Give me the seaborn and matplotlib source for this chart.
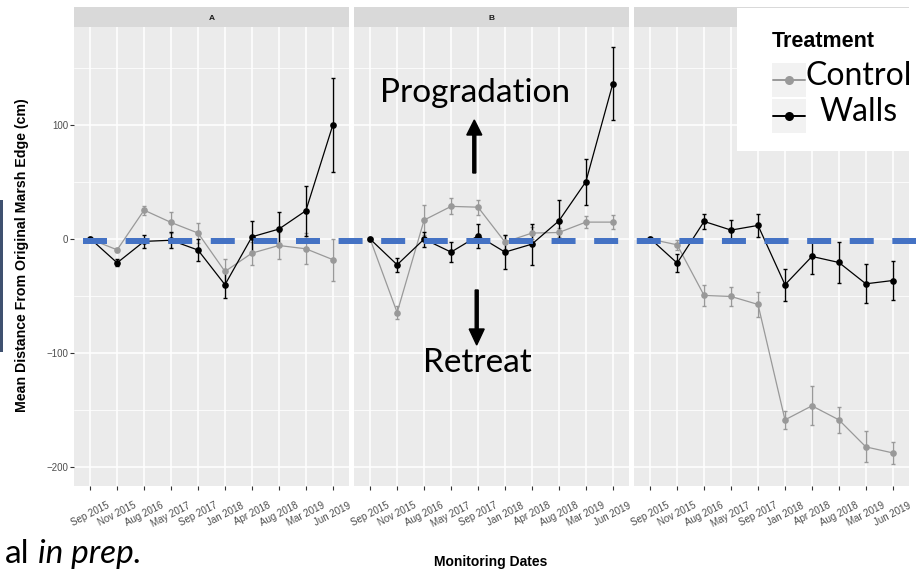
import matplotlib
matplotlib.use("Agg")
import numpy as np
import pandas as pd
import seaborn as sns
import matplotlib.pyplot as plt
from matplotlib.patches import Rectangle, FancyArrow
from matplotlib.lines import Line2D
from matplotlib.ticker import MultipleLocator
from matplotlib.transforms import Affine2D

# ---- data -------------------------------------------------------------
dates = ["Sep 2015", "Nov 2015", "Aug 2016", "May 2017", "Sep 2017",
         "Jan 2018", "Apr 2018", "Aug 2018", "Mar 2019", "Jun 2019"]
sites = ["A", "B", "C"]
treatments = ["Control", "Walls"]

a_control = [0, -9.4, 25.4, 14.6, 5.3, -28.4, -12.3, -5.6, -8.5, -18.0]
a_control_se = [0, 2, 4, 9, 9, 11, 10, 11.5, 13.5, 18.5]
a_walls = [0.5, -20.8, -2, -1, -9.6, -40, 2, 8.8, 24.9, 100]
a_walls_se = [0, 3, 5.5, 7, 9.5, 12, 13.5, 15, 22, 41]

b_control = [0, -64.4, 16.7, 28.7, 28, -2.6, 5.3, 5.8, 14.9, 14.9]
b_control_se = [0, 5.5, 13, 7, 6.7, 6.5, 5, 4, 5, 6]
b_walls = [0, -22.5, 0, -11.4, 2.9, -11.4, -4.4, 16, 50.3, 136.3]
b_walls_se = [0, 6, 6.5, 8.6, 10.5, 15, 18, 18.5, 20, 32]

c_control = [0, -5, -49.4, -50.3, -57.3, -158.5, -146.2, -158.5, -182.2, -187.5]
c_control_se = [0, 4.5, 9, 8.5, 11, 8, 17, 11.5, 13.5, 10]
c_walls = [0.5, -21, 15.5, 7.9, 12, -40, -15.2, -20.5, -39.2, -36.3]
c_walls_se = [0, 8, 6.6, 8.5, 10, 14, 15, 18, 17, 17]

series = {
    ("A", "Control"): (a_control, a_control_se),
    ("A", "Walls"): (a_walls, a_walls_se),
    ("B", "Control"): (b_control, b_control_se),
    ("B", "Walls"): (b_walls, b_walls_se),
    ("C", "Control"): (c_control, c_control_se),
    ("C", "Walls"): (c_walls, c_walls_se),
}

rows = []
for (site, trt), (means, ses) in series.items():
    for d, m, s in zip(dates, means, ses):
        rows.append({"site": site, "treatment": trt, "date": d, "mean": m, "se": s})
df = pd.DataFrame(rows)
df["date"] = pd.Categorical(df["date"], categories=dates, ordered=True)
df["pos"] = df["date"].cat.codes

palette = {"Control": "#999999", "Walls": "#000000"}

# ---- style ------------------------------------------------------------
sns.set_style("darkgrid", {"axes.facecolor": "#EBEBEB", "grid.color": "white"})
plt.rcParams["font.family"] = ["Liberation Sans", "DejaVu Sans"]
plt.rcParams["lines.scale_dashes"] = False

W, H = 921, 572
fig = plt.figure(figsize=(W / 100, H / 100), dpi=100)
fig.patch.set_facecolor("white")
# pixel coordinates measured from the top-left corner
PX = Affine2D().scale(1 / W, -1 / H).translate(0, 1) + fig.transFigure

panel_x = [74, 354, 634]
panel_w = 275
top, bottom = 27, 486

for i, site in enumerate(sites):
    x0 = panel_x[i]
    ax = fig.add_axes([x0 / W, 1 - bottom / H, panel_w / W, (bottom - top) / H])
    ax.set_facecolor("#EBEBEB")
    sub = df[df["site"] == site]
    for trt in treatments:
        s = sub[sub["treatment"] == trt]
        ax.errorbar(s["pos"], s["mean"], yerr=s["se"], fmt="none",
                    ecolor=palette[trt], elinewidth=1.0, capsize=1.5,
                    capthick=1.0, zorder=2)
    sns.lineplot(data=sub, x="pos", y="mean", hue="treatment",
                 hue_order=treatments, palette=palette, marker="o",
                 markersize=4.8, markeredgewidth=0, linewidth=0.9,
                 errorbar=None, legend=False, ax=ax, zorder=3)
    ax.set_xlim(-0.6, 9.6)
    ax.set_ylim(-216.5, 186)
    ax.set_xticks(range(len(dates)))
    ax.set_xticklabels(dates, rotation=27, ha="center", va="top",
                       fontsize=7, color="#4D4D4D")
    ax.set_yticks([-200, -100, 0, 100])
    ax.yaxis.set_minor_locator(MultipleLocator(50))
    ax.grid(which="major", color="white", lw=1.1)
    ax.grid(which="minor", axis="y", color="white", lw=0.55)
    ax.grid(which="minor", axis="x", visible=False)
    ax.tick_params(which="minor", length=0)
    ax.tick_params(axis="x", which="major", length=3, width=0.8,
                   color="#333333", pad=7.5, bottom=True)
    if i == 0:
        ax.tick_params(axis="y", which="major", length=3, width=0.8,
                       color="#333333", pad=1, left=True,
                       labelsize=7, labelcolor="#4D4D4D")
    else:
        ax.tick_params(axis="y", which="both", left=False, labelleft=False)
    for sp in ax.spines.values():
        sp.set_visible(False)
    ax.set_xlabel("")
    ax.set_ylabel("")

    # facet strip
    fig.add_artist(Rectangle((x0, 7), panel_w, 20, transform=PX,
                             facecolor="#D9D9D9", edgecolor="none", zorder=1))
    fig.text(x0 + panel_w / 2, 18, site, transform=PX, ha="center",
             va="center", fontsize=6, fontweight="bold", color="#1A1A1A")

# axis titles
fig.text(22, 255, "Mean Distance From Original Marsh Edge (cm)", transform=PX,
         rotation=90, ha="center", va="center", fontsize=10.2,
         fontweight="bold", color="black")
fig.text(491, 566, "Monitoring Dates", transform=PX, ha="center",
         va="baseline", fontsize=10, fontweight="bold", color="black")

# zero reference line
fig.add_artist(Line2D([83, 916], [240.7, 240.7], transform=PX,
                      color="#4472C4", lw=6 / 1.389,
                      dashes=(24 / 1.389, 18.6 / 1.389),
                      dash_capstyle="butt", zorder=4))

# direction annotations
fig.add_artist(FancyArrow(474.3, 173, 0, -53, width=3, head_width=15,
                          head_length=15, length_includes_head=True,
                          transform=PX, color="black", zorder=5))
fig.add_artist(FancyArrow(476.7, 290, 0, 55, width=3, head_width=15,
                          head_length=16, length_includes_head=True,
                          transform=PX, color="black", zorder=5))
fig.text(474.5, 102, "Progradation", transform=PX, ha="center",
         va="baseline", fontsize=24, family="Lato", color="black", zorder=6)
fig.text(477.5, 372, "Retreat", transform=PX, ha="center",
         va="baseline", fontsize=24, family="Lato", color="black", zorder=6)

# legend
fig.add_artist(Rectangle((737, 8), W - 737, 143, transform=PX,
                         facecolor="white", edgecolor="none", zorder=5))
fig.text(772, 47, "Treatment", transform=PX, ha="left", va="baseline",
         fontsize=15.5, fontweight="bold", color="black", zorder=6)
for trt, ky, label, tx in [("Control", 63, "Control", 805),
                           ("Walls", 99, "Walls", 819)]:
    fig.add_artist(Rectangle((772, ky), 34, 34, transform=PX,
                             facecolor="#F2F2F2", edgecolor="none", zorder=6))
    fig.add_artist(Line2D([773, 805], [ky + 17, ky + 17], transform=PX,
                          color=palette[trt], lw=1.4, marker=None, zorder=7))
    fig.add_artist(Line2D([789], [ky + 17], transform=PX, color=palette[trt],
                          marker="o", markersize=6.5, markeredgewidth=0,
                          lw=0, zorder=8))
    fig.text(tx, ky + 22, label, transform=PX, ha="left", va="baseline",
             fontsize=23, family="Lato", color="black", zorder=8)

# side bar and citation fragment
fig.add_artist(Rectangle((0, 200), 3, 152, transform=PX,
                         facecolor="#3F5170", edgecolor="none", zorder=5))
fig.text(5, 563, "al", transform=PX, ha="left", va="baseline",
         fontsize=24, family="Lato", color="black")
fig.text(38, 563, "in prep.", transform=PX, ha="left", va="baseline",
         fontsize=24, family="Lato", style="italic", color="black")

fig.savefig("out.png", dpi=100, facecolor="white")
